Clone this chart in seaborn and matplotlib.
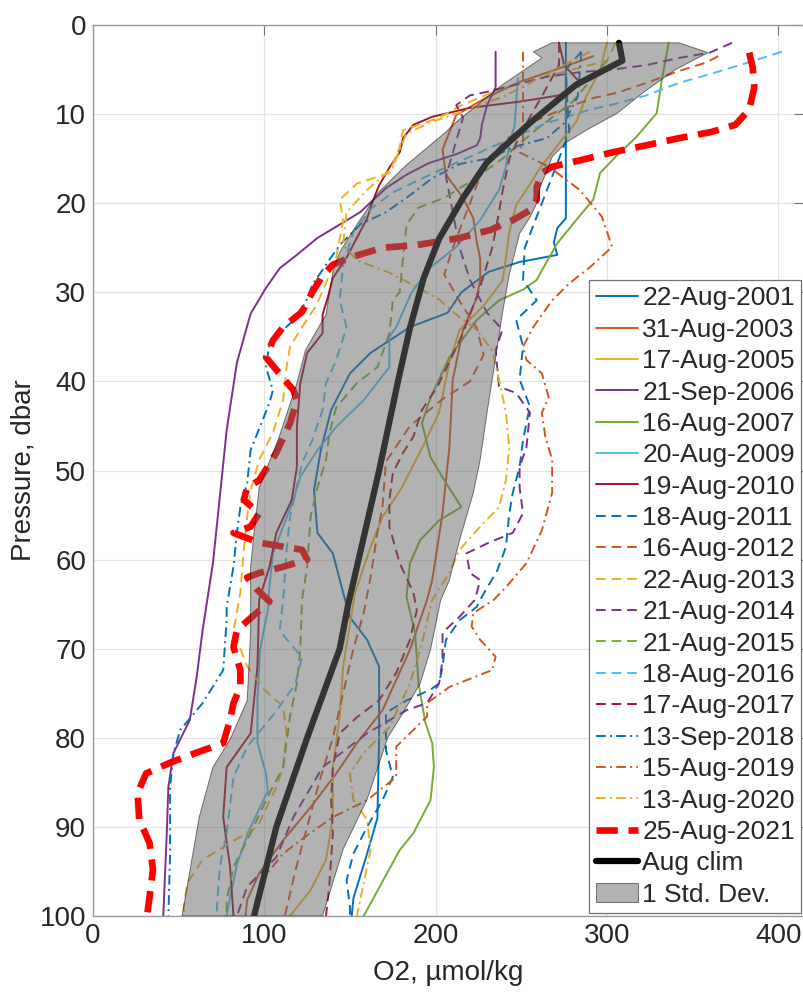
import matplotlib
matplotlib.use("Agg")
import numpy as np
import pandas as pd
import matplotlib.pyplot as plt
import seaborn as sns

# ---------------------------------------------------------------
#  O2 profiles (pressure in dbar, O2 in umol/kg)
# ---------------------------------------------------------------
p_2001 = [2, 10, 21.7, 22.8, 24.4, 25.8, 26.6, 27.7, 30, 32.3, 33.9, 36.8, 39.1, 43.2, 47.7, 52.2, 57, 59.3, 63.7, 66.5, 69, 72, 80, 89, 93, 98, 100]
o2_2001 = [276, 276, 276, 271, 269, 271, 249, 231, 215, 207, 185, 162, 150, 139, 133, 129, 131, 140, 146, 150, 160, 167, 167, 166, 160, 152, 151]

p_2003 = [3.5, 4.2, 6.4, 8.1, 10.1, 14, 16.8, 19.4, 21.7, 24.4, 26.2, 28.6, 30.6, 34.2, 39.8, 47.4, 54.8, 62.3, 64.5, 70.1, 76.9, 80.6, 84, 87.8, 91.5, 95.2, 98.2, 100]
o2_2003 = [292, 282, 249, 230, 212, 204, 206, 216, 222, 224, 226, 226, 224, 216, 210, 208, 204, 198, 195, 185, 169, 154, 142, 127, 111, 97, 90, 89]

p_2005 = [2, 5, 8, 10.9, 12.3, 14.3, 16, 17.9, 20.2, 23.2, 26.2, 28.7, 31.5, 34.2, 37.9, 43.5, 47.5, 52, 55.2, 58.6, 63.7, 72, 77.6, 83.3, 88.9, 93.7, 97.1, 100]
o2_2005 = [300, 296, 288, 282, 276, 268, 261, 255, 247, 243, 241, 239, 228, 214, 208, 202, 192, 180, 169, 162, 153, 146, 144, 140, 140, 136, 127, 115]

p_2006 = [3, 7, 9, 11.2, 12.7, 13.5, 14.5, 15.5, 16.8, 18.3, 21, 22.4, 23.9, 25.8, 27.3, 29.5, 32.4, 37.9, 45.5, 53, 60.4, 67.9, 73.2, 78, 81.7, 85.5, 91, 100]
o2_2006 = [235, 235, 230, 227, 226, 224, 212, 196, 183, 171, 156, 144, 131, 119, 109, 101, 92, 84, 78, 74, 70, 64, 60.5, 56.5, 47, 44, 43, 41]

p_2007 = [2, 6.2, 9.9, 12.6, 14.8, 16.6, 19.6, 21.9, 24.5, 27.2, 28.6, 29.7, 30.9, 33.1, 37.3, 41.8, 44.7, 48.5, 51.4, 54.1, 55.6, 57.8, 60.4, 64.2, 68.2, 73.9, 78.3, 80.6, 83.3, 87, 90.7, 92.6, 100]
o2_2007 = [336, 332, 329, 317, 305, 296, 292, 282, 271, 263, 259, 251, 237, 224, 208, 197, 192, 197, 206, 215, 202, 191, 185, 183, 188, 190, 194, 198, 199, 197, 187, 179, 158]

p_2009 = [6, 11.4, 13.2, 15.9, 18.5, 21.9, 24.9, 27.2, 30, 33.9, 35, 38.4, 42.1, 45.1, 47.7, 50.7, 53.3, 56.3, 59.3, 63, 65.7, 70.1, 75.8, 80.6, 84, 86, 90.4, 94.2, 97.9, 100]
o2_2009 = [248, 246, 243, 241, 237, 226, 212, 197, 186, 177, 173, 173, 158, 142, 131, 121, 117, 111, 105, 103, 102, 97.5, 96, 96, 101, 102, 91, 84, 80, 78]

p_2010 = [2, 4.5, 6.4, 7.9, 8.6, 9.3, 10.3, 11.2, 12.7, 14.3, 16, 18, 19.9, 21.7, 23.9, 26.1, 28.4, 30.6, 32.5, 34.6, 36.8, 40.2, 45.1, 49.6, 53.3, 57, 60.8, 64.5, 72, 77.7, 79.5, 83.3, 88.9, 94.5, 100]
o2_2010 = [272, 275, 284, 272, 249, 220, 198, 187, 181, 179, 173, 167, 163, 160, 154, 148, 140, 137, 134, 134, 125, 121, 119, 119, 116, 107, 103, 97, 96, 93, 92, 78, 76, 80, 82]

p_2011 = [3, 5, 9, 12, 15, 20, 25, 28.6, 30.9, 33.1, 36.1, 39.8, 42.8, 46.6, 49.6, 52.5, 54.8, 58.6, 61.2, 64.5, 65.3, 66.8, 69, 72, 73.9, 74.6, 75.8, 77.2, 81.4, 84.4, 87, 90, 93, 96, 99, 100]
o2_2011 = [285, 276, 277, 278, 272, 262, 252, 251, 259, 247, 251, 249, 255, 251, 249, 245, 243, 241, 236, 226, 224, 214, 206, 204, 202, 197, 183, 171, 171, 175, 169, 160, 152, 148, 150, 150]

p_2012 = [3.5, 4.2, 5.3, 6.5, 7.6, 8.2, 9.3, 11, 13, 16, 20, 25, 28, 31, 34, 37, 40, 42, 45, 49, 54, 57, 62, 66, 70, 75, 80, 85, 90, 95, 100]
o2_2012 = [365, 358, 340, 323, 306, 292, 276, 255, 240, 228, 220, 210, 205, 214, 224, 228, 220, 204, 185, 171, 169, 166, 162, 158, 152, 146, 140, 132, 125, 118, 112]

p_2013 = [2, 4, 5.5, 7.1, 9, 10.4, 11.8, 13.7, 16.6, 17.8, 19.6, 22, 26, 29, 31.6, 33.9, 36.1, 38.4, 42.1, 45.8, 48.8, 52.2, 55.2, 58.9, 63.7, 68, 72, 74.6, 76.5, 79.5, 83.3, 85.5, 90, 91.8, 93.7, 96.3, 99, 100]
o2_2013 = [305, 300, 270, 239, 215, 202, 181, 179, 173, 154, 144, 146, 142, 136, 130, 122, 115, 113, 111, 105, 97, 92, 90, 88, 86, 82, 90, 100, 111, 113, 111, 107, 96, 80, 64, 55, 53, 53]

p_2014 = [2, 3.1, 3.7, 4.5, 5, 5.3, 5.8, 7.5, 7.9, 9, 10.4, 13, 17, 21, 25, 28.6, 32.3, 34.2, 36.5, 40.6, 41.3, 43.5, 47.4, 49.6, 51.9, 54.8, 57, 58.1, 59.3, 61.5, 62.3, 64.5, 66.4, 68.2, 71.3, 73.9, 76.1, 76.9, 79.5, 83.3, 88.9, 93.4, 96.7, 100]
o2_2014 = [373, 360, 342, 323, 303, 284, 265, 230, 220, 212, 216, 212, 206, 210, 214, 220, 230, 239, 235, 237, 247, 255, 253, 249, 249, 251, 245, 231, 218, 220, 226, 223, 214, 204, 204, 202, 195, 183, 160, 134, 117, 107, 90, 84]

p_2015 = [4, 8.6, 12, 15, 17.6, 19.4, 20.5, 22.4, 26.1, 30, 30.9, 34.6, 38.4, 40.2, 42.9, 45.8, 48.8, 51.9, 55.2, 60.8, 64.5, 70.1, 73.9, 77.6, 83.3, 86.2, 90.7, 94.5, 98.2, 100]
o2_2015 = [300, 280, 257, 239, 220, 205, 190, 183, 181, 179, 175, 173, 166, 154, 142, 138, 136, 131, 127, 125, 122, 121, 119, 115, 111, 103, 92, 82, 78, 78]

p_2016 = [3, 4.3, 5.4, 6.5, 7.9, 8.8, 9.5, 11, 13.5, 16.5, 18.8, 20.5, 23.2, 27, 30.9, 33.9, 37.6, 40.2, 43.2, 46.6, 49.2, 55.2, 58.9, 64.5, 68, 71, 74, 77, 81, 84.4, 90.7, 94.5, 100]
o2_2016 = [402, 381, 362, 342, 323, 306, 290, 265, 235, 200, 175, 163, 152, 146, 144, 148, 142, 136, 134, 128, 122, 115, 113, 111, 109, 122, 118, 107, 90, 82, 78, 74, 72]

p_2017 = [2, 4.5, 8, 12, 15, 18.7, 21, 25, 30, 35, 39, 40.6, 43.2, 46.2, 48, 50.3, 53.3, 56.3, 60.4, 63.7, 65.7, 69, 72.7, 75.8, 77.7, 79.5, 83.3, 87, 90.7, 96.3, 100]
o2_2017 = [272, 272, 262, 250, 243, 239, 237, 233, 225, 215, 205, 201, 192, 187, 181, 175, 173, 173, 179, 187, 189, 185, 177, 167, 154, 144, 140, 139, 140, 138, 136]

p_2018 = [3, 8, 11, 12.7, 13.5, 15, 15.6, 17.2, 19.4, 21, 22.4, 24.7, 26.9, 29.2, 31.2, 33.5, 35.7, 38.4, 41, 42.4, 45.8, 47.7, 51.4, 54.1, 57, 60.8, 65.3, 66.8, 72.4, 76.1, 79.1, 81.7, 85.5, 92.9, 100]
o2_2018 = [285, 283, 275, 265, 249, 230, 214, 198, 183, 171, 156, 144, 136, 128, 124, 115, 103, 101, 105, 103, 96, 92, 90, 86, 84, 82, 78, 78, 76, 64, 51, 47, 45, 45, 44]

p_2019 = [3, 13, 14.3, 15.9, 18.5, 21.5, 24.9, 27.2, 29, 30.9, 33.9, 36.1, 37.6, 39.1, 41.8, 43.5, 46.2, 48.8, 52.5, 56.7, 60.4, 63.1, 64.5, 66, 67.5, 69, 70.9, 72.4, 74.3, 76.1, 77.6, 81, 84.4, 87, 88.9, 91.5, 93, 95.6, 98.2, 100]
o2_2019 = [251, 251, 249, 266, 284, 297, 303, 290, 278, 268, 257, 251, 253, 262, 266, 262, 264, 268, 268, 262, 253, 241, 234, 222, 221, 226, 235, 233, 208, 195, 195, 177, 177, 160, 140, 121, 111, 100, 95, 94]

p_2020 = [3, 5, 8, 9.8, 11, 12.2, 14, 16, 18.5, 21, 24.7, 26.4, 27.8, 29.4, 30.8, 32.8, 34.2, 36.5, 39.8, 43.5, 47.4, 51.1, 54.1, 56.3, 58.9, 61.5, 64.5, 69.4, 73.9, 78.8, 81.7, 84, 87, 89.2, 92.6, 96.3, 100]
o2_2020 = [290, 270, 240, 214, 196, 183, 179, 175, 160, 148, 146, 154, 173, 189, 202, 214, 224, 233, 237, 241, 243, 241, 237, 226, 214, 208, 198, 192, 185, 173, 158, 150, 152, 160, 162, 158, 154]

p_2021 = [3.1, 4.7, 7, 9.5, 11.2, 12, 12.7, 13.5, 14.3, 15.2, 15.9, 16.6, 18.2, 19.6, 20.8, 21.9, 23, 23.9, 24.7, 25, 26.1, 26.9, 28.1, 30, 32.2, 33.9, 35.4, 37.3, 38.7, 41, 42.1, 44.7, 48, 51.1, 51.9, 53.3, 54.8, 56.3, 57, 58.1, 58.9, 60, 60.8, 61.5, 62, 63.4, 64.7, 66.4, 67.9, 69.8, 72.4, 74.3, 76.1, 78, 80.6, 81.7, 82.8, 84, 86.2, 89.2, 91.8, 94.8, 97.9, 100]
o2_2021 = [383, 385, 386, 383, 375, 361, 342, 323, 303, 284, 268, 262, 259, 259, 255, 245, 232, 214, 189, 169, 150, 140, 134, 128, 122, 111, 105, 101, 107, 117, 119, 115, 107, 97, 90, 88, 97, 92, 82, 97, 122, 125, 111, 97, 90, 96, 103, 93, 84, 82, 86, 86, 82, 80, 76, 60, 45, 31, 26, 27, 33, 35, 33, 31.5]

# August climatology and +/- 1 std dev envelope
p_clim = [2, 4, 6.7, 11, 15.4, 19.4, 24, 28.4, 34, 40, 50, 60, 65, 70, 80, 90, 100]
o2_clim = [307, 309, 282, 255, 230, 216, 202, 193, 185, 178, 167, 155, 149, 144, 125, 107, 94]

p_sd_left = [2, 3, 3.7, 6.7, 10.9, 12, 15.7, 18.7, 22.4, 25.5, 27.7, 32.5, 36.5, 40.2, 46.6, 51.9, 57, 60.8, 64.5, 68.2, 75.8, 80.2, 83.3, 88.9, 100]
o2_sd_left = [268, 257, 262, 239, 212, 206, 183, 167, 154, 144, 140, 136, 124, 119, 108, 97, 94, 92, 92, 92, 90, 80, 70, 62, 52]
p_sd_right = [2, 3.1, 5, 7.6, 9.9, 11.8, 13.2, 14.8, 16.3, 18.2, 20, 21.6, 23.4, 28, 32.3, 36.1, 43.5, 48.8, 52.5, 57.8, 62.3, 64.5, 70.1, 73.9, 77.5, 80, 86.9, 92.5, 100]
o2_sd_right = [342, 359, 340, 321, 306, 288, 276, 268, 265, 261, 259, 255, 249, 243, 239, 236, 230, 226, 222, 214, 208, 203, 197, 191, 180, 172, 160, 146, 134]

labels = ["22-Aug-2001", "31-Aug-2003", "17-Aug-2005", "21-Sep-2006", "16-Aug-2007",
          "20-Aug-2009", "19-Aug-2010", "18-Aug-2011", "16-Aug-2012", "22-Aug-2013",
          "21-Aug-2014", "21-Aug-2015", "18-Aug-2016", "17-Aug-2017", "13-Sep-2018",
          "15-Aug-2019", "13-Aug-2020", "25-Aug-2021"]
pressures = [p_2001, p_2003, p_2005, p_2006, p_2007, p_2009, p_2010, p_2011, p_2012,
             p_2013, p_2014, p_2015, p_2016, p_2017, p_2018, p_2019, p_2020, p_2021]
oxygen = [o2_2001, o2_2003, o2_2005, o2_2006, o2_2007, o2_2009, o2_2010, o2_2011, o2_2012,
          o2_2013, o2_2014, o2_2015, o2_2016, o2_2017, o2_2018, o2_2019, o2_2020, o2_2021]

# matlab default line colours, cycled with -, --, -.
matlab_colors = ["#0072BD", "#D95319", "#EDB120", "#7E2F8E", "#77AC30", "#4DBEEE", "#A2142F"]
solid = "-"
dashed = (0, (5, 3))
dashdot = (0, (5, 2.2, 1, 2.2))

sns.set_style("white")
plt.rcParams["font.family"] = ["Liberation Sans", "DejaVu Sans"]

fig = plt.figure(figsize=(8.04, 9.96), dpi=100)
ax = fig.add_axes([93 / 804, 80 / 996, 711 / 804, 891 / 996])

for i, (lab, p, o2) in enumerate(zip(labels, pressures, oxygen)):
    df = pd.DataFrame({"o2": o2, "p": p})
    if i == 17:
        color, ls, lw = "#FF0000", (0, (3.2, 1.6)), 4.8
    else:
        color = matlab_colors[i % 7]
        ls = [solid, dashed, dashdot][i // 7]
        lw = 1.4
    sns.lineplot(data=df, x="o2", y="p", sort=False, estimator=None, ax=ax,
                 color=color, linestyle=ls, lw=lw, label=lab, zorder=2)

clim = pd.DataFrame({"o2": o2_clim, "p": p_clim})
sns.lineplot(data=clim, x="o2", y="p", sort=False, estimator=None, ax=ax,
             color="black", lw=4.5, label="Aug clim", zorder=2)

# envelope drawn on top, semi transparent like the matlab patch
ax.fill(np.r_[o2_sd_left, o2_sd_right[::-1]], np.r_[p_sd_left, p_sd_right[::-1]],
        facecolor="0.4", edgecolor="black", alpha=0.5, lw=0.7, zorder=3,
        label="1 Std. Dev.")

ax.set_xlim(0, 415)
ax.set_ylim(100, 0)
ax.set_xticks([0, 100, 200, 300, 400])
ax.set_yticks(np.arange(0, 101, 10))
ax.grid(True, color="#e3e3e3", lw=0.9)
ax.set_axisbelow(True)
ax.tick_params(direction="in", length=7, width=0.8, color="0.45", top=True, right=True,
               labelsize=20, labelcolor="#262626", pad=5)
for sp in ax.spines.values():
    sp.set_color("0.6")
    sp.set_linewidth(1.0)

ax.set_xlabel("O2, µmol/kg", fontsize=20, color="#262626")
ax.set_ylabel("Pressure, dbar", fontsize=20, color="#262626")
ax.xaxis.set_label_coords(0.5, -0.049)
ax.yaxis.set_label_coords(-0.079, 0.5)

leg = ax.legend(loc="lower right", fontsize=19, frameon=True, fancybox=False,
                framealpha=1, edgecolor="0.45", borderaxespad=0.1, borderpad=0.25,
                labelspacing=0.28, handlelength=1.6, handletextpad=0.15)
leg.get_frame().set_linewidth(0.9)

fig.savefig("out.png", dpi=100)
